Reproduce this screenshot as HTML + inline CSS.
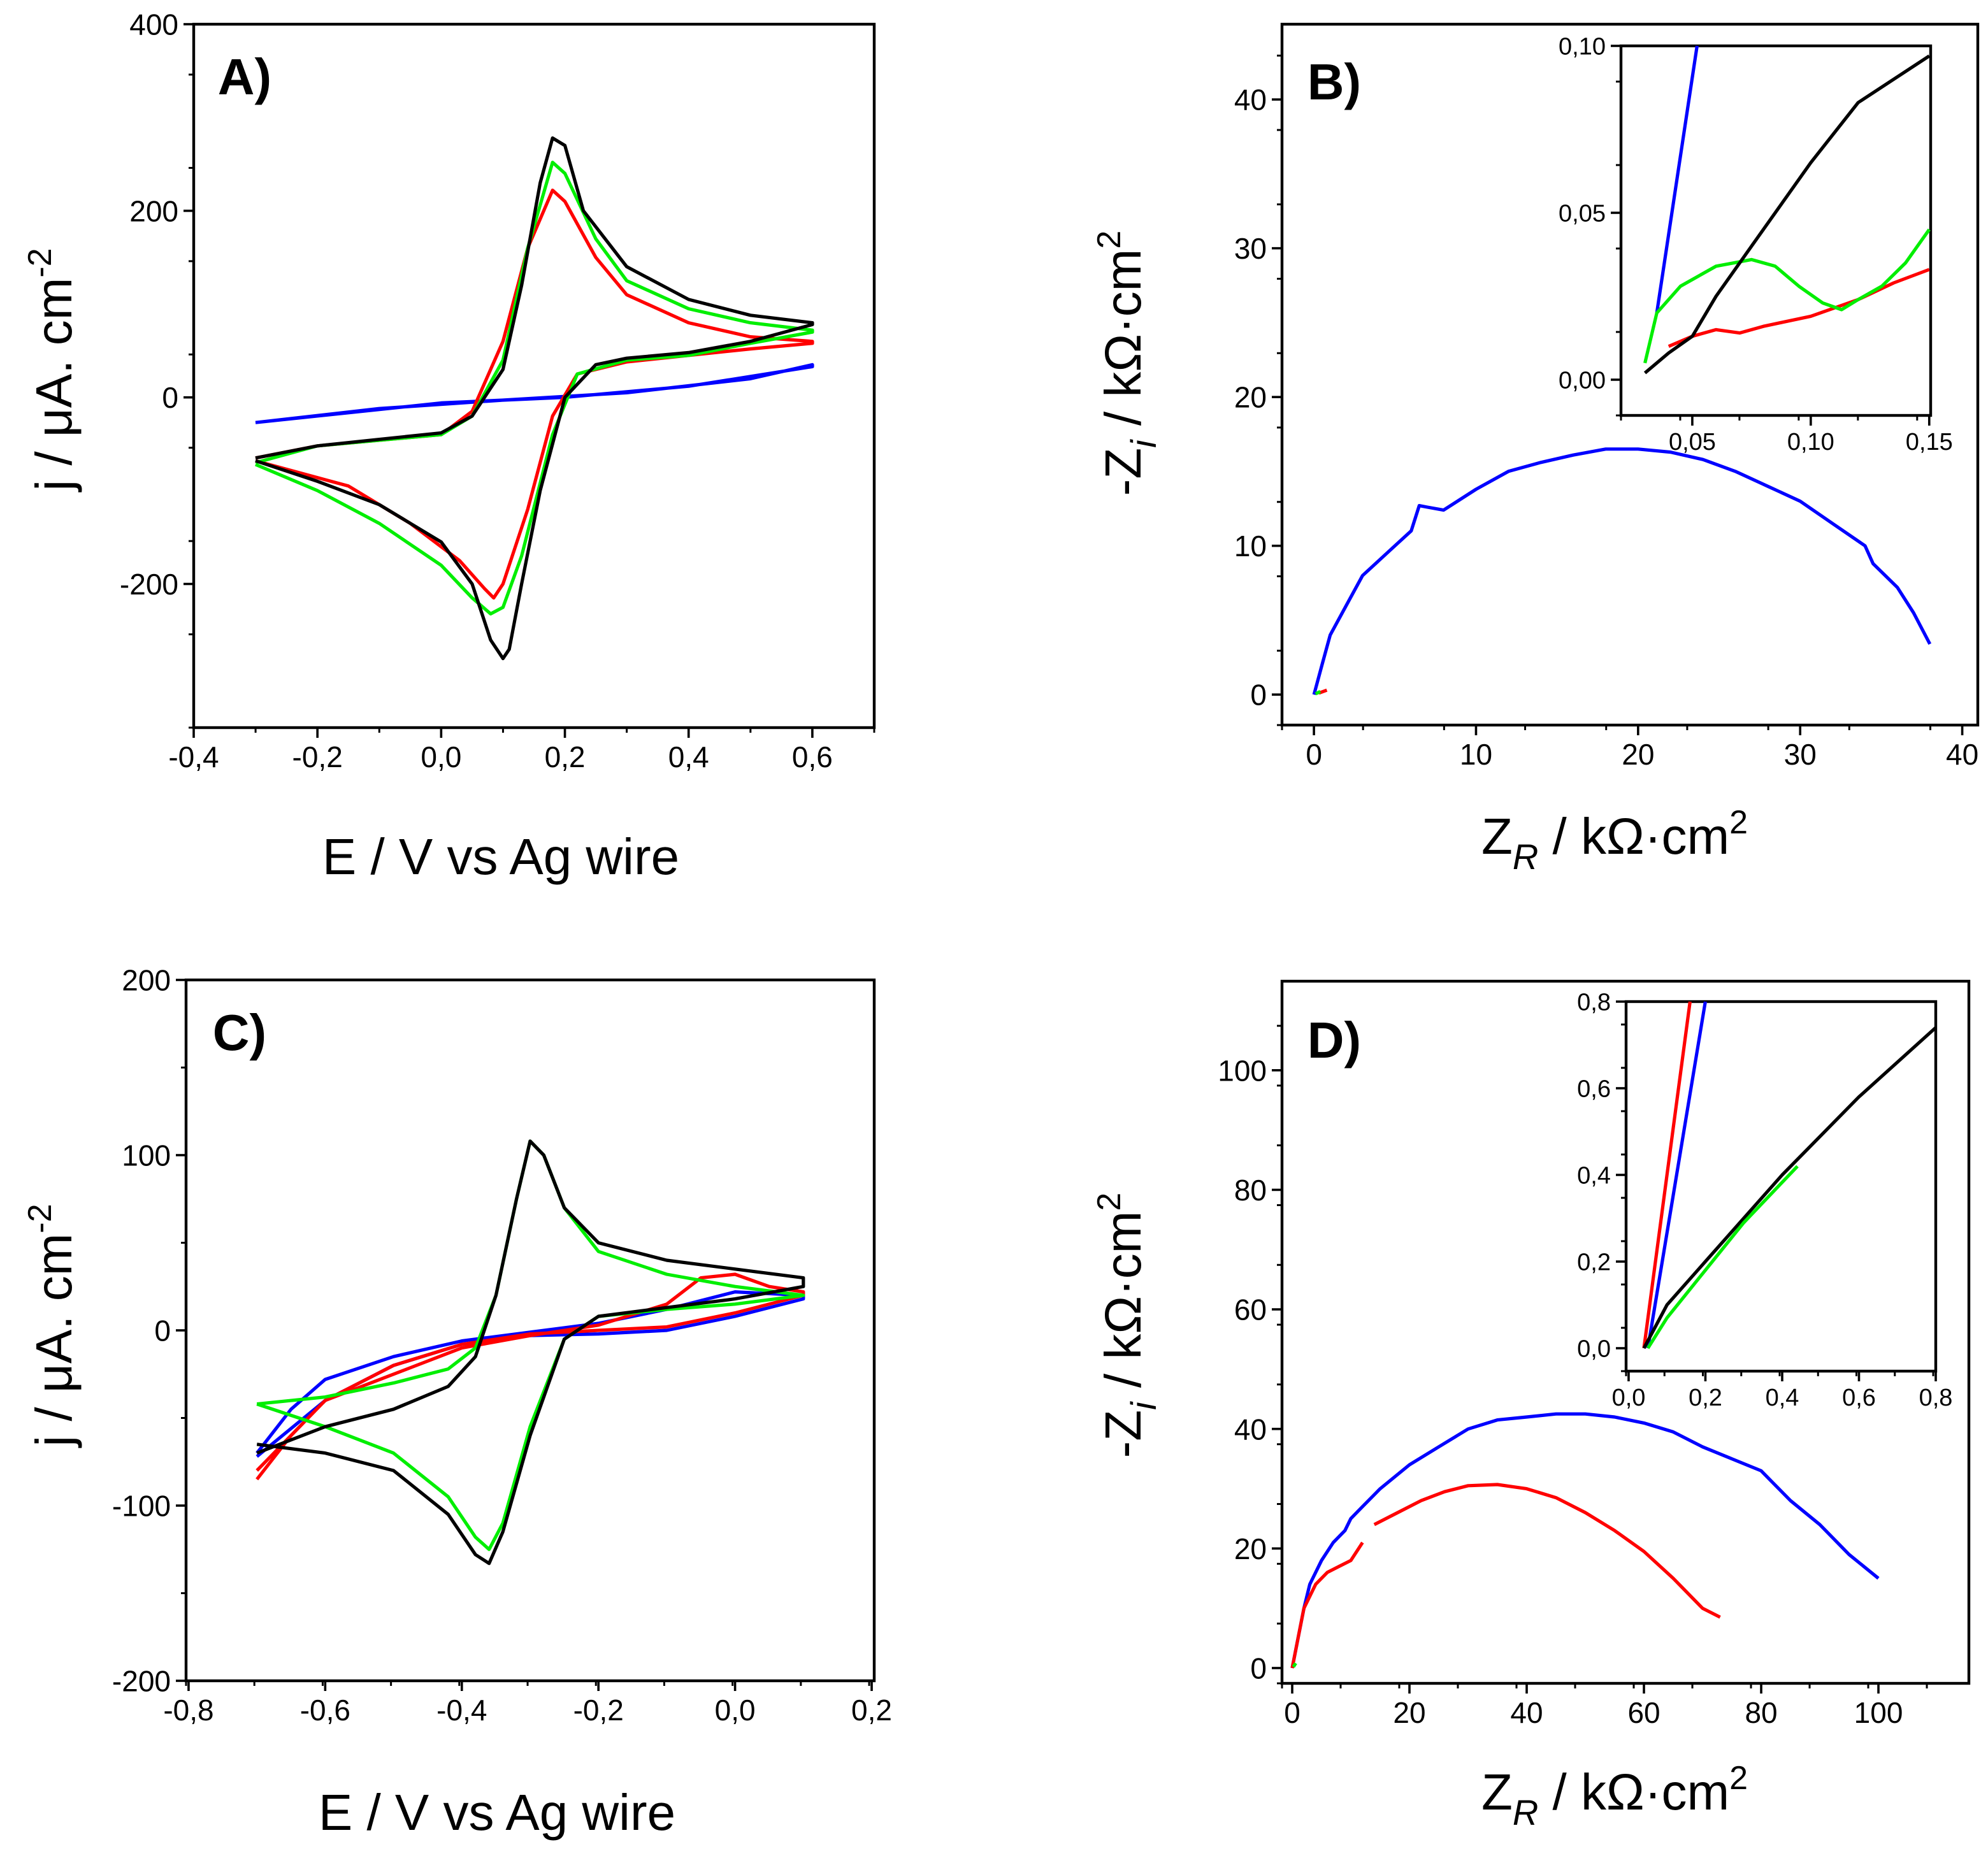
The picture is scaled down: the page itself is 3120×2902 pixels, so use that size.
<!DOCTYPE html>
<html><head><meta charset="utf-8">
<style>
html,body{margin:0;padding:0;background:#fff;}
svg{display:block;font-family:"Liberation Sans",Arial,sans-serif;}
</style></head>
<body>
<svg id="fig" width="3120" height="2902" viewBox="0 0 1560 1451" xmlns="http://www.w3.org/2000/svg"></svg>
<script>
// ---------- Data ----------
// Panel A
const aBlackE=[-0.3,-0.2,-0.1,0.0,0.05,0.1,0.13,0.16,0.18,0.2,0.23,0.3,0.4,0.5,0.6,0.6,0.5,0.4,0.3,0.25,0.2,0.16,0.13,0.11,0.1,0.08,0.05,0.0,-0.1,-0.2,-0.3];
const aBlackJ=[-65,-52,-45,-38,-20,30,120,230,278,270,200,140,105,88,80,78,60,48,42,35,0,-100,-200,-270,-280,-260,-200,-155,-115,-90,-68];
const aRedE=[-0.3,-0.2,0,0.05,0.1,0.14,0.18,0.2,0.25,0.3,0.4,0.5,0.6,0.6,0.5,0.4,0.3,0.22,0.18,0.14,0.1,0.085,0.07,0.03,-0.05,-0.15,-0.3];
const aRedJ=[-65,-52,-40,-15,60,160,222,210,150,110,80,65,60,58,52,45,38,25,-20,-120,-200,-215,-205,-175,-135,-95,-68];
const aGreenE=[-0.3,-0.2,0,0.05,0.1,0.14,0.18,0.2,0.25,0.3,0.4,0.5,0.6,0.6,0.5,0.4,0.3,0.22,0.18,0.13,0.1,0.08,0.05,0.0,-0.1,-0.2,-0.3];
const aGreenJ=[-70,-52,-40,-20,40,160,252,240,170,125,95,80,72,70,58,45,40,25,-40,-170,-225,-232,-215,-180,-135,-100,-72];
const aBlueE=[-0.3,-0.1,0.1,0.3,0.5,0.6,0.6,0.4,0.2,0,-0.3];
const aBlueJ=[-27,-12,-3,5,20,35,33,12,0,-6,-27];
// Panel B
const bBlueZr=[0,0.5,1,2,3,4,5,6,6.5,7,8,10,12,14,16,18,20,22,24,26,28,30,32,34,34.5,36,37,38];
const bBlueZi=[0,2,4,6,8,9,10,11,12.7,12.6,12.4,13.8,15,15.6,16.1,16.5,16.5,16.3,15.8,15,14,13,11.5,10,8.8,7.2,5.5,3.4];
const bRedZr=[0.3,0.8]; const bRedZi=[0.1,0.3];
const bGreenZr=[0.1,0.4]; const bGreenZi=[0.05,0.2];
const biBlueZr=[0.035,0.052]; const biBlueZi=[0.02,0.10];
const biBlackZr=[0.03,0.04,0.05,0.06,0.08,0.10,0.12,0.15];
const biBlackZi=[0.002,0.008,0.013,0.025,0.045,0.065,0.083,0.097];
const biGreenZr=[0.03,0.035,0.045,0.06,0.075,0.085,0.095,0.105,0.113,0.12,0.13,0.14,0.15];
const biGreenZi=[0.005,0.02,0.028,0.034,0.036,0.034,0.028,0.023,0.021,0.024,0.028,0.035,0.045];
const biRedZr=[0.04,0.05,0.06,0.07,0.08,0.1,0.12,0.135,0.15];
const biRedZi=[0.01,0.013,0.015,0.014,0.016,0.019,0.024,0.029,0.033];
// Panel C
const cBlackE=[-0.7,-0.6,-0.5,-0.42,-0.38,-0.35,-0.32,-0.3,-0.28,-0.25,-0.2,-0.1,0,0.1,0.1,0,-0.1,-0.2,-0.25,-0.3,-0.34,-0.36,-0.38,-0.42,-0.5,-0.6,-0.7];
const cBlackJ=[-70,-55,-45,-32,-15,20,75,108,100,70,50,40,35,30,25,18,13,8,-5,-60,-115,-133,-128,-105,-80,-70,-65];
const cGreenE=[-0.7,-0.6,-0.5,-0.42,-0.38,-0.35,-0.32,-0.3,-0.28,-0.25,-0.2,-0.1,0,0.1,0.1,0,-0.1,-0.2,-0.25,-0.3,-0.34,-0.36,-0.38,-0.42,-0.5,-0.6,-0.7];
const cGreenJ=[-42,-38,-30,-22,-10,20,75,108,100,70,45,32,25,20,20,15,12,8,-5,-55,-110,-125,-118,-95,-70,-55,-42];
const cRedE=[-0.7,-0.65,-0.6,-0.5,-0.4,-0.3,-0.2,-0.1,-0.05,0,0.05,0.1,0.1,0,-0.1,-0.2,-0.3,-0.4,-0.5,-0.6,-0.7];
const cRedJ=[-85,-60,-40,-25,-10,-3,3,15,30,32,25,22,20,10,2,0,-2,-8,-20,-40,-80];
const cBlueE=[-0.7,-0.65,-0.6,-0.5,-0.4,-0.3,-0.2,-0.1,0,0.1,0.1,0,-0.1,-0.2,-0.3,-0.4,-0.5,-0.6,-0.7];
const cBlueJ=[-70,-45,-28,-15,-6,-1,4,12,22,20,18,8,0,-2,-3,-8,-20,-40,-72];
// Panel D
const dBlueZr=[0,1,2,3,5,7,9,10,12,15,20,25,30,35,40,45,50,55,60,65,70,75,80,82,85,90,95,100];
const dBlueZi=[0,5,10,14,18,21,23,25,27,30,34,37,40,41.5,42,42.5,42.5,42,41,39.5,37,35,33,31,28,24,19,15];
const dRed1Zr=[0,1,2,4,6,8,10,12]; const dRed1Zi=[0,5,10,14,16,17,18,21];
const dRed2Zr=[14,18,22,26,30,35,40,45,50,55,60,65,70,73];
const dRed2Zi=[24,26,28,29.5,30.5,30.7,30,28.5,26,23,19.5,15,10,8.5];
const dGreenZr=[0.2,0.6]; const dGreenZi=[0.2,0.8];
const diRedZr=[0.04,0.16]; const diRedZi=[0,0.8];
const diBlueZr=[0.05,0.2]; const diBlueZi=[0,0.8];
const diBlackZr=[0.04,0.1,0.2,0.4,0.6,0.8]; const diBlackZi=[0,0.1,0.2,0.4,0.58,0.74];
const diGreenZr=[0.05,0.1,0.2,0.3,0.44]; const diGreenZi=[0,0.07,0.18,0.29,0.42];
// Tick labels
const aXTicks=[-0.4,-0.2,0,0.2,0.4,0.6]; const aYTicks=[-200,0,200,400];
const bXTicks=[0,10,20,30,40]; const bYTicks=[0,10,20,30,40];
const biXTicks=[0.05,0.10,0.15]; const biYTicks=[0,0.05,0.10];
const cXTicks=[-0.8,-0.6,-0.4,-0.2,0,0.2]; const cYTicks=[-200,-100,0,100,200];
const dXTicks=[0,20,40,60,80,100]; const dYTicks=[0,20,40,60,80,100];
const diXTicks=[0,0.2,0.4,0.6,0.8]; const diYTicks=[0,0.2,0.4,0.6,0.8];

const NS="http://www.w3.org/2000/svg";
const svg=document.getElementById('fig');
function mk(tag,attrs,parent){const e=document.createElementNS(NS,tag);for(const k in attrs)e.setAttribute(k,attrs[k]);(parent||svg).appendChild(e);return e;}
const COL={black:'#000',red:'#f00',green:'#0e0',blue:'#00f'};
function fmt(v,d){return v.toFixed(d).replace('.',',');}

function axes(name,box,xr,yr,xt,yt,xd,yd,xminor,yminor,fs){
  const g=mk('g',{});
  
  
  const sx=v=>box.l+(v-xr[0])/(xr[1]-xr[0])*(box.r-box.l);
  const sy=v=>box.b-(v-yr[0])/(yr[1]-yr[0])*(box.b-box.t);
  const fr=mk('rect',{x:box.l,y:box.t,width:box.r-box.l,height:box.b-box.t,fill:'none',stroke:'#000','stroke-width':2.2},g);
  
  
  for(let v=xr[0];v<=xr[1]+1e-9;v+=xminor){const x=sx(v);mk('line',{x1:x,x2:x,y1:box.b,y2:box.b+4,stroke:'#000','stroke-width':1.5},g);}
  for(let v=yr[0];v<=yr[1]+1e-9;v+=yminor){const y=sy(v);mk('line',{x1:box.l,x2:box.l-4,y1:y,y2:y,stroke:'#000','stroke-width':1.5},g);}
  xt.forEach(v=>{const x=sx(v);mk('line',{x1:x,x2:x,y1:box.b,y2:box.b+8,stroke:'#000','stroke-width':1.8},g);
    const t=mk('text',{x:x,y:box.b+8+fs,'font-size':fs,'text-anchor':'middle'},g);t.textContent=fmt(v,xd);
    
    });
  yt.forEach(v=>{const y=sy(v);mk('line',{x1:box.l,x2:box.l-8,y1:y,y2:y,stroke:'#000','stroke-width':1.8},g);
    const t=mk('text',{x:box.l-12,y:y+fs*0.36,'font-size':fs,'text-anchor':'end'},g);t.textContent=fmt(v,yd);
    
    });
  return {sx,sy,g,box};
}
function series(ax,xs,ys,color,name){
  const pts=xs.map((x,i)=>ax.sx(x).toFixed(1)+','+ax.sy(ys[i]).toFixed(1)).join(' ');
  const p=mk('polyline',{points:pts,fill:'none',stroke:COL[color],'stroke-width':2.6,'stroke-linejoin':'round'},ax.g);
  
  
}
function label(txt,x,y,name,size,bold,rot){
  const t=mk('text',{x:x,y:y,'font-size':size,'font-weight':bold?'bold':'normal','text-anchor':'middle'});
  if(rot)t.setAttribute('transform','rotate(-90 '+x+' '+y+')');
  t.innerHTML=txt;
  
  
  return t;
}
const FS=23;
// A
const A=axes('panel-a',{l:152,r:686,t:19,b:571},[-0.4,0.7],[-354,400],aXTicks,aYTicks,1,0,0.1,100,FS);
series(A,aBlueE,aBlueJ,'blue','a-blue-cv');series(A,aRedE,aRedJ,'red','a-red-cv');
series(A,aGreenE,aGreenJ,'green','a-green-cv');series(A,aBlackE,aBlackJ,'black','a-black-cv');
// B
const B=axes('panel-b',{l:1006,r:1552,t:19,b:569},[-1.97,40.96],[-2.05,45.06],bXTicks,bYTicks,0,0,5,5,FS);
series(B,bBlueZr,bBlueZi,'blue','b-blue-nyquist');series(B,bRedZr,bRedZi,'red','b-red-nyquist');series(B,bGreenZr,bGreenZi,'green','b-green-nyquist');
const BI=axes('panel-b-inset',{l:1272,r:1515,t:36,b:326},[0.0199,0.1506],[-0.0107,0.10],biXTicks,biYTicks,2,2,0.025,0.025,19);
series(BI,biBlueZr,biBlueZi,'blue','bi-blue');series(BI,biRedZr,biRedZi,'red','bi-red');
series(BI,biGreenZr,biGreenZi,'green','bi-green');series(BI,biBlackZr,biBlackZi,'black','bi-black');
// C
const C=axes('panel-c',{l:146,r:686,t:769,b:1319},[-0.8037,0.2037],[-200,200],cXTicks,cYTicks,1,0,0.1,50,FS);
series(C,cBlueE,cBlueJ,'blue','c-blue-cv');series(C,cRedE,cRedJ,'red','c-red-cv');
series(C,cGreenE,cGreenJ,'green','c-green-cv');series(C,cBlackE,cBlackJ,'black','c-black-cv');
// D
const D=axes('panel-d',{l:1006,r:1545,t:770,b:1321},[-1.74,115.43],[-2.56,114.9],dXTicks,dYTicks,0,0,10,10,FS);
series(D,dBlueZr,dBlueZi,'blue','d-blue-nyquist');series(D,dRed1Zr,dRed1Zi,'red','d-red-nyquist-1');
series(D,dRed2Zr,dRed2Zi,'red','d-red-nyquist-2');series(D,dGreenZr,dGreenZi,'green','d-green-nyquist');
const DI=axes('panel-d-inset',{l:1276,r:1519,t:786,b:1076},[-0.0066,0.8],[-0.0529,0.8],diXTicks,diYTicks,1,1,0.1,0.1,19);
series(DI,diRedZr,diRedZi,'red','di-red');series(DI,diBlueZr,diBlueZi,'blue','di-blue');
series(DI,diBlackZr,diBlackZi,'black','di-black');series(DI,diGreenZr,diGreenZi,'green','di-green');
// labels
label('A)',192,74,'panel-a-label',40,true);
label('B)',1047,78,'panel-b-label',40,true);
label('C)',188,824,'panel-c-label',40,true);
label('D)',1047,830,'panel-d-label',40,true);
label('E / V vs Ag wire',393,686,'a-x-axis-title',40);
label('E / V vs Ag wire',390,1436,'c-x-axis-title',40);
label('j / μA. cm<tspan dy="-16" font-size="26">-2</tspan>',56,290,'a-y-axis-title',40,false,true);
label('j / μA. cm<tspan dy="-16" font-size="26">-2</tspan>',56,1040,'c-y-axis-title',40,false,true);
label('Z<tspan dy="12" font-size="28" font-style="italic">R</tspan><tspan dy="-12"> / kΩ·cm</tspan><tspan dy="-16" font-size="26">2</tspan>',1267,670,'b-x-axis-title',40);
label('Z<tspan dy="12" font-size="28" font-style="italic">R</tspan><tspan dy="-12"> / kΩ·cm</tspan><tspan dy="-16" font-size="26">2</tspan>',1267,1420,'d-x-axis-title',40);
label('-Z<tspan dy="12" font-size="28" font-style="italic">i</tspan><tspan dy="-12"> / kΩ·cm</tspan><tspan dy="-16" font-size="26">2</tspan>',895,285,'b-y-axis-title',40,false,true);
label('-Z<tspan dy="12" font-size="28" font-style="italic">i</tspan><tspan dy="-12"> / kΩ·cm</tspan><tspan dy="-16" font-size="26">2</tspan>',895,1040,'d-y-axis-title',40,false,true);
</script>
</body></html>
